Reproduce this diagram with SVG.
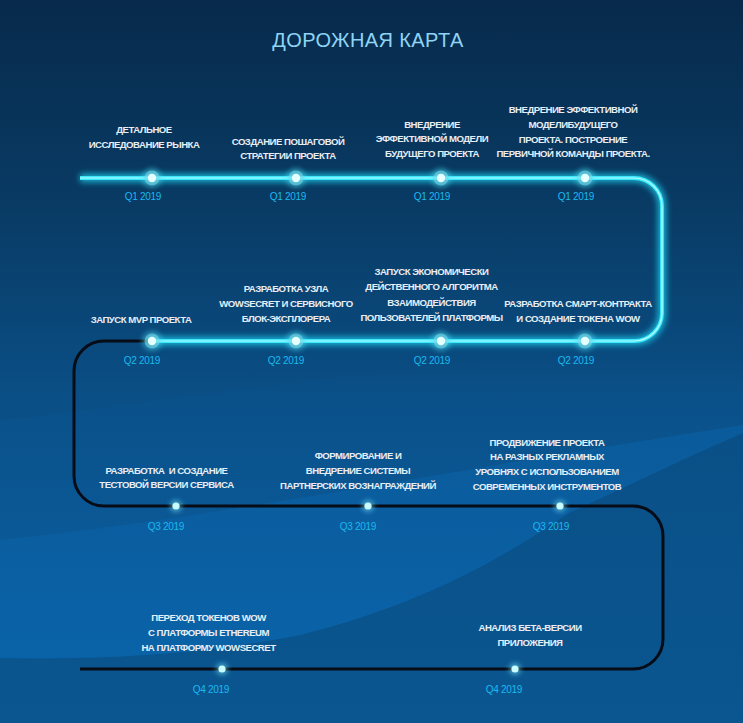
<svg xmlns="http://www.w3.org/2000/svg" width="743" height="723" viewBox="0 0 743 723">
<defs>
<linearGradient id="bg" x1="0" y1="0" x2="0" y2="1">
<stop offset="0" stop-color="#072a4b"/>
<stop offset="0.3" stop-color="#093c66"/>
<stop offset="0.55" stop-color="#0a4f86"/>
<stop offset="1" stop-color="#0a5690"/>
</linearGradient>
<linearGradient id="band" x1="0" y1="0" x2="0" y2="1">
<stop offset="0" stop-color="#0b5fa3" stop-opacity="0"/>
<stop offset="0.6" stop-color="#0b62a8" stop-opacity="0.6"/>
<stop offset="1" stop-color="#0a66ad" stop-opacity="1"/>
</linearGradient>
<filter id="glow" x="-20%" y="-20%" width="140%" height="140%">
<feGaussianBlur stdDeviation="3"/>
</filter>
<filter id="nglow" x="-100%" y="-100%" width="300%" height="300%">
<feGaussianBlur stdDeviation="2.5"/>
</filter>
<g id="bignode">
<circle r="10" fill="#4fe3f5" opacity="0.45" filter="url(#nglow)"/>
<circle r="7.5" fill="#7fd9ea" opacity="0.55"/>
<circle r="4.2" fill="#e6ffff"/>
</g>
<g id="smallnode">
<circle r="6" fill="#7ff0ff" opacity="0.5" filter="url(#nglow)"/>
<circle r="3.6" fill="#c8fbff"/>
</g>
</defs>
<style>
.t{font-family:"Liberation Sans",Arial,sans-serif;font-weight:bold;font-size:9.6px;letter-spacing:-0.5px;fill:#e8eef5;text-anchor:middle}
.q{font-family:"Liberation Sans",Arial,sans-serif;font-size:10px;letter-spacing:-0.3px;fill:#1ab9ef;text-anchor:middle}
.title{font-family:"Liberation Sans",Arial,sans-serif;font-size:20px;letter-spacing:0.4px;fill:#8fd4f5;text-anchor:middle}
</style>
<rect width="743" height="723" fill="url(#bg)"/>
<path d="M0,420 C200,400 500,340 743,360 L743,433 C680,460 620,490 569,513 C500,560 420,605 300,635 C200,655 100,660 0,658 Z" fill="url(#band)" opacity="0.7"/>
<path d="M0,540 C200,520 450,470 743,425 L743,433 C680,460 620,490 569,513 C500,560 420,605 300,635 C200,655 100,660 0,658 Z" fill="#0b66ad" opacity="0.45"/>
<text class="title" x="368" y="47">ДОРОЖНАЯ КАРТА</text>
<g id="connectors">
<path d="M80,178 H634 A28,28 0 0 1 662,206 V313 A28,28 0 0 1 634,341 H152" fill="none" stroke="#1fd6f2" stroke-width="8" opacity="0.8" filter="url(#glow)"/>
<path d="M80,178 H634 A28,28 0 0 1 662,206 V313 A28,28 0 0 1 634,341 H152" fill="none" stroke="#3ee8fb" stroke-width="3.8"/>
<path d="M80,178 H634 A28,28 0 0 1 662,206 V313 A28,28 0 0 1 634,341 H152" fill="none" stroke="#b8fbff" stroke-width="1.2"/>
<path d="M148,341 H104 A30,30 0 0 0 74,371 V476 A30,30 0 0 0 104,506 H633 A30,30 0 0 1 663,536 V639 A30,30 0 0 1 633,669 H80" fill="none" stroke="#070c16" stroke-width="3"/>
</g>
<g id="n1"><use href="#bignode" x="152" y="178"/><text class="t" x="144" y="132.5">ДЕТАЛЬНОЕ</text><text class="t" x="144" y="147.5">ИССЛЕДОВАНИЕ РЫНКА</text><text class="q" x="143" y="199.5">Q1 2019</text></g>
<g id="n2"><use href="#bignode" x="296" y="178"/><text class="t" x="288" y="144.5">СОЗДАНИЕ ПОШАГОВОЙ</text><text class="t" x="288" y="159">СТРАТЕГИИ ПРОЕКТА</text><text class="q" x="288" y="199.5">Q1 2019</text></g>
<g id="n3"><use href="#bignode" x="441" y="178"/><text class="t" x="432" y="127.5">ВНЕДРЕНИЕ</text><text class="t" x="432" y="142">ЭФФЕКТИВНОЙ МОДЕЛИ</text><text class="t" x="432" y="156.5">БУДУЩЕГО ПРОЕКТА</text><text class="q" x="432" y="199.5">Q1 2019</text></g>
<g id="n4"><use href="#bignode" x="585" y="178"/><text class="t" x="573" y="112.5">ВНЕДРЕНИЕ ЭФФЕКТИВНОЙ</text><text class="t" x="573" y="127.5">МОДЕЛИБУДУЩЕГО</text><text class="t" x="573" y="142.5">ПРОЕКТА. ПОСТРОЕНИЕ</text><text class="t" x="573" y="156.5">ПЕРВИЧНОЙ КОМАНДЫ ПРОЕКТА.</text><text class="q" x="576" y="199.5">Q1 2019</text></g>
<g id="n5"><use href="#bignode" x="152" y="341"/><text class="t" x="141" y="322.5">ЗАПУСК MVP ПРОЕКТА</text><text class="q" x="142" y="363.5">Q2 2019</text></g>
<g id="n6"><use href="#bignode" x="296" y="341"/><text class="t" x="286" y="291.5">РАЗРАБОТКА УЗЛА</text><text class="t" x="286" y="306.5">WOWSECRET И СЕРВИСНОГО</text><text class="t" x="286" y="321.5">БЛОК-ЭКСПЛОРЕРА</text><text class="q" x="286" y="363.5">Q2 2019</text></g>
<g id="n7"><use href="#bignode" x="441" y="341"/><text class="t" x="431.5" y="275">ЗАПУСК ЭКОНОМИЧЕСКИ</text><text class="t" x="431.5" y="290">ДЕЙСТВЕННОГО АЛГОРИТМА</text><text class="t" x="431.5" y="305.5">ВЗАИМОДЕЙСТВИЯ</text><text class="t" x="431.5" y="321">ПОЛЬЗОВАТЕЛЕЙ ПЛАТФОРМЫ</text><text class="q" x="432" y="363.5">Q2 2019</text></g>
<g id="n8"><use href="#bignode" x="585" y="341"/><text class="t" x="578" y="306.5">РАЗРАБОТКА СМАРТ-КОНТРАКТА</text><text class="t" x="578" y="321.5">И СОЗДАНИЕ ТОКЕНА WOW</text><text class="q" x="576" y="363.5">Q2 2019</text></g>
<g id="n9"><use href="#smallnode" x="176" y="506"/><text class="t" x="166.5" y="473.5" xml:space="preserve">РАЗРАБОТКА  И СОЗДАНИЕ</text><text class="t" x="166.5" y="487.5">ТЕСТОВОЙ ВЕРСИИ СЕРВИСА</text><text class="q" x="166" y="529.5">Q3 2019</text></g>
<g id="n10"><use href="#smallnode" x="368" y="506"/><text class="t" x="358" y="458.5">ФОРМИРОВАНИЕ И</text><text class="t" x="358" y="473.5">ВНЕДРЕНИЕ СИСТЕМЫ</text><text class="t" x="358" y="488.5">ПАРТНЕРСКИХ ВОЗНАГРАЖДЕНИЙ</text><text class="q" x="358" y="529.5">Q3 2019</text></g>
<g id="n11"><use href="#smallnode" x="560" y="506"/><text class="t" x="547" y="445.5">ПРОДВИЖЕНИЕ ПРОЕКТА</text><text class="t" x="547" y="460">НА РАЗНЫХ РЕКЛАМНЫХ</text><text class="t" x="547" y="475">УРОВНЯХ С ИСПОЛЬЗОВАНИЕМ</text><text class="t" x="547" y="489.5">СОВРЕМЕННЫХ ИНСТРУМЕНТОВ</text><text class="q" x="551" y="529.5">Q3 2019</text></g>
<g id="n12"><use href="#smallnode" x="222" y="669"/><text class="t" x="208.5" y="620.5">ПЕРЕХОД ТОКЕНОВ WOW</text><text class="t" x="208.5" y="635.5">С ПЛАТФОРМЫ ETHEREUM</text><text class="t" x="208.5" y="650.5">НА ПЛАТФОРМУ WOWSECRET</text><text class="q" x="211" y="692.5">Q4 2019</text></g>
<g id="n13"><use href="#smallnode" x="515" y="669"/><text class="t" x="530" y="630.5">АНАЛИЗ БЕТА-ВЕРСИИ</text><text class="t" x="530" y="645.5">ПРИЛОЖЕНИЯ</text><text class="q" x="504" y="692.5">Q4 2019</text></g>
</svg>
